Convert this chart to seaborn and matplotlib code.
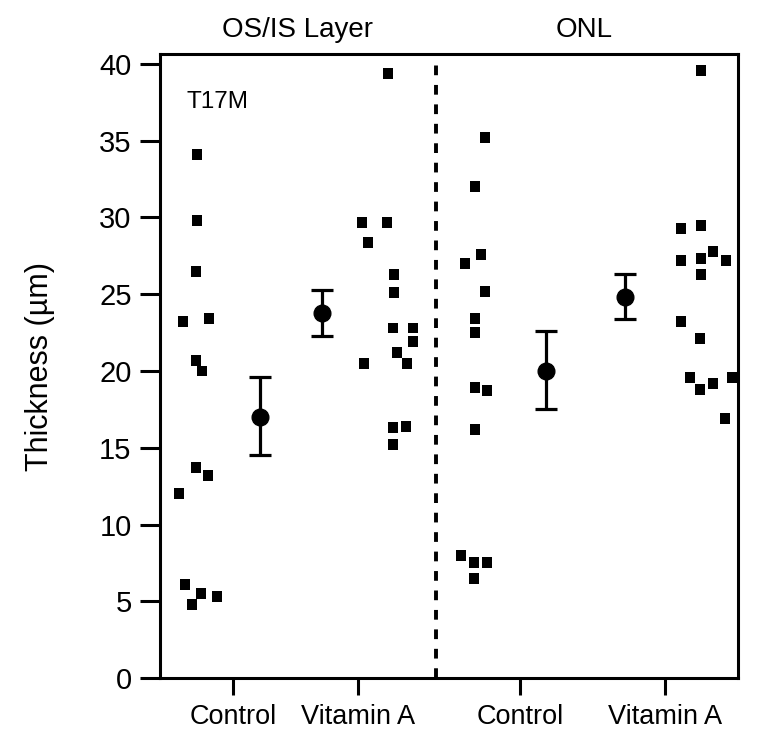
import matplotlib
matplotlib.use('Agg')
import matplotlib.pyplot as plt
import numpy as np
import pandas as pd
import seaborn as sns

# category labels and where their ticks sit on the x scale
grupos = ['Control', 'Vitamin A', 'Control', 'Vitamin A']
camadas = ['OS/IS Layer', 'ONL']
pos_grupo = [0.70, 1.95, 3.57, 5.02]

# individual thickness values (um)
osis_controle = [34.1, 29.8, 26.5, 23.2, 23.4, 20.7, 20.0, 13.7, 13.2, 12.0, 6.1, 5.5, 4.8, 5.3]
osis_vitA = [39.4, 29.7, 29.7, 28.4, 26.3, 25.1, 22.8, 22.8, 21.9, 21.2, 20.5, 20.5, 16.3, 16.4, 15.2]
onl_controle = [35.2, 32.0, 27.6, 27.0, 25.2, 23.4, 22.5, 18.9, 18.7, 16.2, 8.0, 7.5, 7.5, 6.5]
onl_vitA = [39.6, 29.3, 29.5, 27.2, 27.3, 27.8, 27.2, 26.3, 23.2, 22.1, 19.6, 18.8, 19.2, 19.6, 16.9]

# horizontal scatter of each point relative to its category tick
desl_osis_controle = [-0.36, -0.36, -0.37, -0.50, -0.24, -0.37, -0.31, -0.37, -0.25, -0.54, -0.48, -0.32, -0.41, -0.16]
desl_osis_vitA = [0.30, 0.04, 0.29, 0.10, 0.36, 0.36, 0.35, 0.55, 0.55, 0.39, 0.49, 0.06, 0.35, 0.48, 0.35]
desl_onl_controle = [-0.35, -0.45, -0.39, -0.55, -0.35, -0.45, -0.45, -0.45, -0.33, -0.45, -0.59, -0.46, -0.33, -0.46]
desl_onl_vitA = [0.36, 0.16, 0.36, 0.16, 0.36, 0.48, 0.61, 0.36, 0.16, 0.35, 0.25, 0.35, 0.48, 0.67, 0.60]

# group mean +/- error, and offset of the mean marker from the tick
medias = [17.0, 23.8, 20.0, 24.8]
erro_sup = [19.6, 25.3, 22.6, 26.3]
erro_inf = [14.5, 22.3, 17.5, 23.4]
desl_media = [0.27, -0.36, 0.26, -0.40]

plt.rcParams['font.family'] = ['Liberation Sans', 'DejaVu Sans']
plt.rcParams['lines.scale_dashes'] = False

valores = [osis_controle, osis_vitA, onl_controle, onl_vitA]
deslocs = [desl_osis_controle, desl_osis_vitA, desl_onl_controle, desl_onl_vitA]
linhas = []
for i, (v, d) in enumerate(zip(valores, deslocs)):
    for y, dx in zip(v, d):
        linhas.append({'x': pos_grupo[i] + dx, 'y': y, 'grupo': i})
df = pd.DataFrame(linhas)

fig = plt.figure(figsize=(7.76, 7.45), dpi=100)
eixo = fig.add_axes([0.2062, 0.0899, 0.7448, 0.8376])

sns.scatterplot(data=df, x='x', y='y', marker='s', s=62, color='black',
                edgecolor='none', linewidth=0, ax=eixo, legend=False)

xm = np.array(pos_grupo) + np.array(desl_media)
med = np.array(medias)
eixo.errorbar(xm, med, yerr=[med - np.array(erro_inf), np.array(erro_sup) - med],
              fmt='o', color='black', markersize=12, elinewidth=2.3,
              capsize=8, capthick=2.3, zorder=3)

eixo.axvline(2.73, color='black', lw=2.8, linestyle=(0, (7, 7)), zorder=1)

eixo.set_xlim(-0.03, 5.75)
eixo.set_ylim(0, 40.65)
eixo.set_yticks(range(0, 41, 5))
eixo.set_xticks(pos_grupo)
eixo.set_xticklabels(grupos)
eixo.tick_params(axis='y', length=14.5, width=2.2, labelsize=21, pad=6)
eixo.tick_params(axis='x', length=12, width=2.2, labelsize=19.5, pad=7)
for s in eixo.spines.values():
    s.set_linewidth(2.2)
eixo.set_xlabel('')
eixo.set_ylabel('')

eixo.text(0.046, 0.914, 'T17M', transform=eixo.transAxes, fontsize=17.5)
fig.text(297 / 776, 1 - 30 / 745, camadas[0], ha='center', va='center', fontsize=20)
fig.text(584 / 776, 1 - 30 / 745, camadas[1], ha='center', va='center', fontsize=20)
fig.text(40 / 776, 1 - 366 / 745, 'Thickness (µm)', rotation=90, ha='center',
         va='center', fontsize=22)

fig.savefig('out.png', dpi=100)
